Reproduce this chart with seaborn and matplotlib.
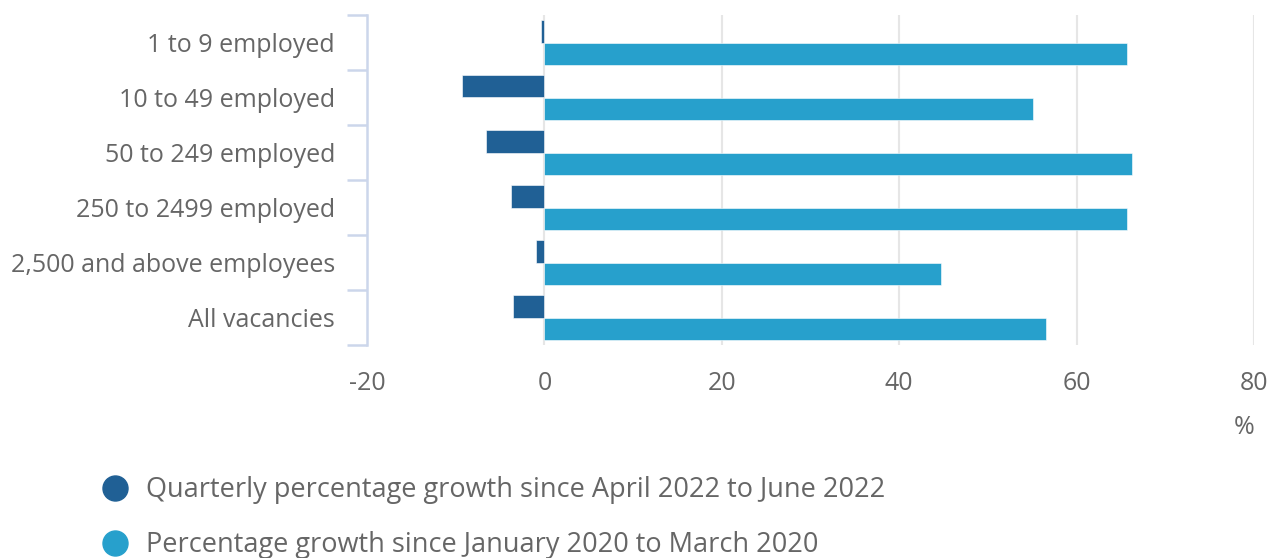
import matplotlib
matplotlib.use("Agg")
import matplotlib.pyplot as plt
import pandas as pd
import seaborn as sns
from matplotlib.lines import Line2D

categories = [
    "1 to 9 employed",
    "10 to 49 employed",
    "50 to 249 employed",
    "250 to 2499 employed",
    "2,500 and above employees",
    "All vacancies",
]
quarterly_growth = [-0.4, -9.3, -6.6, -3.8, -1.0, -3.5]
growth_since_2020 = [65.7, 55.1, 66.2, 65.7, 44.7, 56.6]
series_names = [
    "Quarterly percentage growth since April 2022 to June 2022",
    "Percentage growth since January 2020 to March 2020",
]
x_ticks = [-20, 0, 20, 40, 60, 80]

DARK = "#206095"
LIGHT = "#27a0cc"
TEXT = "#666666"
AXIS = "#ccd6eb"
GRID = "#e6e6e6"


def main() -> None:
    sns.set_theme(style="white")
    plt.rcParams["font.family"] = ["Open Sans", "DejaVu Sans"]
    plt.rcParams["axes.unicode_minus"] = False

    df = pd.DataFrame(
        {
            "category": categories * 2,
            "value": quarterly_growth + growth_since_2020,
            "series": [series_names[0]] * len(categories) + [series_names[1]] * len(categories),
        }
    )

    W, H = 1269, 558
    fig = plt.figure(figsize=(W / 100, H / 100), dpi=100)
    ax = fig.add_axes([367 / W, 1 - 345 / H, (1254 - 367) / W, (345 - 15) / H])

    for x in x_ticks[1:]:
        ax.axvline(x, color=GRID, linewidth=1.5, zorder=0)

    sns.barplot(
        data=df,
        y="category",
        x="value",
        hue="series",
        palette=[DARK, LIGHT],
        saturation=1,
        width=0.82,
        orient="h",
        edgecolor="white",
        linewidth=0.4,
        legend=False,
        ax=ax,
        zorder=2,
    )

    ax.set_xlim(-20, 80)
    ax.set_ylim(len(categories) - 0.5, -0.5)
    ax.set_xticks(x_ticks)
    ax.set_xlabel("")
    ax.set_ylabel("")
    ax.tick_params(axis="x", length=0, pad=19, labelsize=18, labelcolor=TEXT)
    ax.tick_params(axis="y", which="major", left=False, length=0, pad=23, labelsize=18, labelcolor=TEXT)
    ax.set_yticks([i - 0.5 for i in range(len(categories) + 1)], minor=True)
    ax.tick_params(axis="y", which="minor", left=True, length=14.5, width=1.8, color=AXIS)

    for side in ["top", "right", "bottom"]:
        ax.spines[side].set_visible(False)
    ax.spines["left"].set_color(AXIS)
    ax.spines["left"].set_linewidth(1.8)

    fig.text(1244 / W, 1 - 428 / H, "%", ha="center", va="center", fontsize=18, color=TEXT)

    handles = [
        Line2D([], [], marker="o", linestyle="", markersize=18, color=DARK),
        Line2D([], [], marker="o", linestyle="", markersize=18, color=LIGHT),
    ]
    fig.legend(
        handles,
        series_names,
        loc="upper left",
        bbox_to_anchor=(101 / W, 1 - 476 / H),
        frameon=False,
        fontsize=19.5,
        labelcolor=TEXT,
        handletextpad=0.65,
        labelspacing=1.0,
        handlelength=1.0,
        borderaxespad=0,
        borderpad=0,
    )

    fig.savefig("out.png", dpi=100)
    plt.close(fig)


if __name__ == "__main__":
    main()
